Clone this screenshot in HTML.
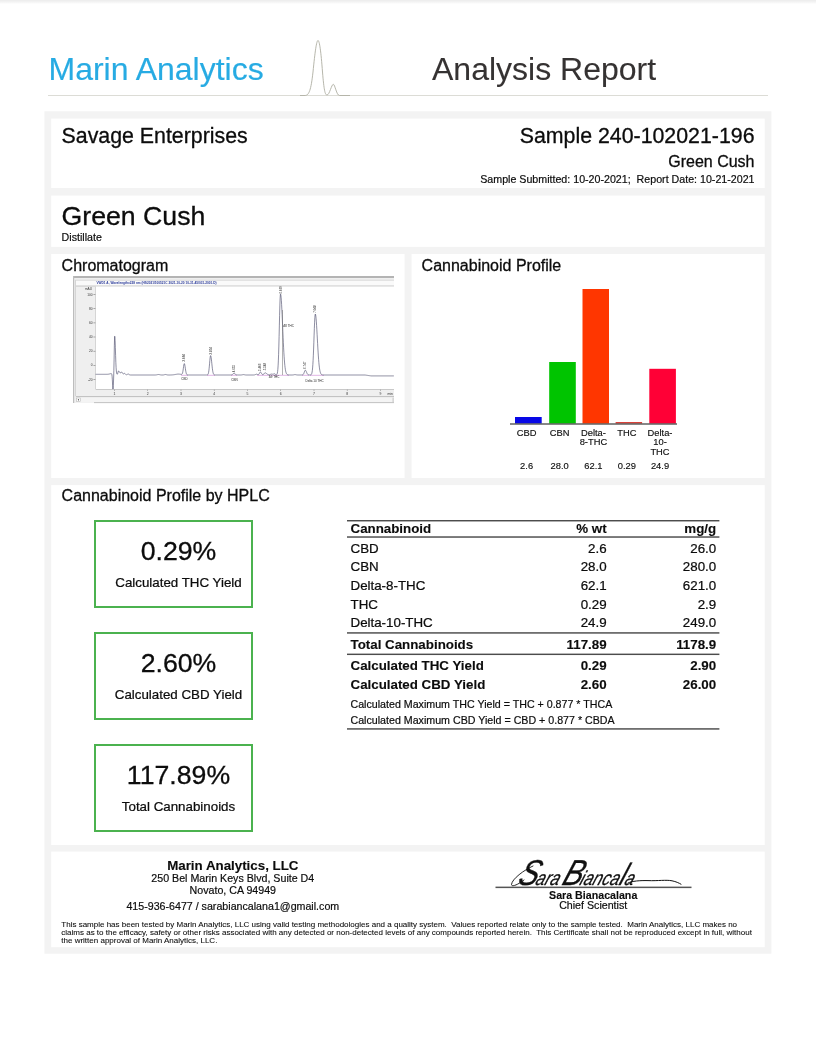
<!DOCTYPE html>
<html lang="en">
<head>
<meta charset="utf-8">
<title>Marin Analytics - Analysis Report</title>
<style>
*{box-sizing:border-box;margin:0;padding:0}
html,body{width:816px;height:1054px;background:#fff;overflow:hidden}
body{position:relative;font-family:"Liberation Sans",Arial,Helvetica,sans-serif;color:#0c0c0c;}
.t{position:absolute;white-space:pre;line-height:1;-webkit-text-stroke:0.3px currentColor}
.b{font-weight:700;-webkit-text-stroke:0.12px currentColor}
.topstrip{position:absolute;left:0;top:0;width:816px;height:4px;background:linear-gradient(#ececec,#f4f4f4 50%,#fff)}
.hline{position:absolute;left:48px;top:95px;width:720px;height:1px;background:#dcdcd6}
.gbox{position:absolute;left:94px;width:159px;height:88.5px;border:2px solid #4bb24f;background:#fff}
svg{position:absolute;overflow:visible}
svg text{font-family:"Liberation Sans",Arial,Helvetica,sans-serif}
</style>
</head>
<body>
<div class="topstrip"></div>
<header>
<div class="t " style="top:53.30px;font-size:32px;-webkit-text-stroke-width:0.30px;left:48.5px;color:#27abe3;-webkit-text-stroke-width:0.15px;">Marin Analytics</div>
<div class="t " style="top:53.30px;font-size:32px;-webkit-text-stroke-width:0.30px;left:432px;color:#353232;-webkit-text-stroke-width:0.1px;">Analysis Report</div>
<div class="hline"></div>
<svg style="left:300px;top:36px" width="50" height="64" viewBox="300 36 50 64">
<path d="M300 95.5 H305 C309 95.5 311 90 313 72 C315 52 316.5 40.5 318 40.5 C319.5 40.5 321 52 322.5 72 C324 90 325 95 327 95 C329.5 95 331.5 84.3 333.3 84.3 C335 84.3 336.5 95.5 339.5 95.5 H350" fill="none" stroke="#b2b2a6" stroke-width="0.95"/>
</svg>
</header>
<main>
<svg style="left:0;top:0;z-index:0" width="816" height="1054" viewBox="0 0 816 1054" aria-hidden="true">
<rect x="44.4" y="111.3" width="727" height="842.4" fill="#f3f3f3"/>
<g fill="#fff">
<rect x="51.2" y="118.6" width="713.5" height="69.4"/>
<rect x="51.2" y="195.6" width="713.5" height="51.3"/>
<rect x="51.2" y="254" width="353.4" height="224"/>
<rect x="411.6" y="254" width="353.1" height="224"/>
<rect x="51.2" y="485.1" width="713.5" height="359.9"/>
<rect x="51.2" y="851.6" width="713.5" height="95.6"/>
</g>
</svg>
<div class="t " style="top:125.64px;font-size:21.33px;-webkit-text-stroke-width:0.30px;left:61.6px;">Savage Enterprises</div>
<div class="t " style="top:125.64px;font-size:21.33px;-webkit-text-stroke-width:0.30px;right:61.50px;text-align:right;">Sample 240-102021-196</div>
<div class="t " style="top:153.80px;font-size:16px;-webkit-text-stroke-width:0.29px;right:61.50px;text-align:right;">Green Cush</div>
<div class="t " style="top:173.97px;font-size:10.67px;-webkit-text-stroke-width:0.19px;right:61.50px;text-align:right;">Sample Submitted: 10-20-2021;  Report Date: 10-21-2021</div>
<div class="t " style="top:202.97px;font-size:26.67px;-webkit-text-stroke-width:0.30px;left:61.6px;">Green Cush</div>
<div class="t " style="top:231.97px;font-size:10.67px;-webkit-text-stroke-width:0.19px;left:61.6px;">Distillate</div>
<div class="t " style="top:257.80px;font-size:16px;-webkit-text-stroke-width:0.29px;left:61.6px;">Chromatogram</div>
<div class="t " style="top:257.80px;font-size:16px;-webkit-text-stroke-width:0.29px;left:421.6px;">Cannabinoid Profile</div>
<svg style="left:0;top:0" width="816" height="1054" viewBox="0 0 816 1054" role="img" aria-label="Chromatogram">
<rect x="73" y="276" width="321" height="127" fill="#efefef"/>
<rect x="73" y="276" width="321" height="2" fill="#b4b4b4"/>
<rect x="73" y="276" width="1.2" height="127" fill="#bdbdbd"/>
<rect x="75.2" y="279.8" width="0.8" height="116.5" fill="#cfcfcf"/>
<rect x="76" y="280.4" width="318" height="5.2" fill="#fafafa"/>
<rect x="76" y="279.8" width="318" height="0.7" fill="#cfcfcf"/>
<rect x="76" y="285.6" width="318" height="0.9" fill="#c4c4c4"/>
<text x="96.5" y="284.2" font-size="3.4" font-weight="700" fill="#2a3a9a" textLength="120" lengthAdjust="spacingAndGlyphs">VWD1 A, Wavelength=228 nm (HS2021\100521C 2021-10-20 10-31-45\031-2001.D)</text>
<rect x="95.6" y="286.6" width="298.4" height="102.39999999999998" fill="#fff"/>
<rect x="95.19999999999999" y="286.6" width="0.7" height="102.39999999999998" fill="#c8c8c8"/>
<rect x="95.6" y="389" width="298.4" height="0.8" fill="#c0c0c0"/>
<rect x="76" y="396.2" width="318" height="0.9" fill="#b8b8b8"/>
<rect x="76" y="397.6" width="318" height="5" fill="#f4f4f4"/>
<rect x="94" y="402.2" width="300" height="0.9" fill="#bcbcbc"/>
<rect x="392.6" y="397.6" width="1" height="5" fill="#c4c4c4"/>
<rect x="76.6" y="398" width="3.6" height="3.6" fill="#fff" stroke="#aaa" stroke-width="0.5"/>
<path d="M79 398.9 L77.7 399.8 L79 400.7Z" fill="#333"/>
<g font-size="3.2" fill="#333" text-anchor="end">
<text x="92" y="290" >mAU</text>
<text x="92.6" y="295.7">100</text>
<text x="92.6" y="309.8">80</text>
<text x="92.6" y="324.0">60</text>
<text x="92.6" y="338.1">40</text>
<text x="92.6" y="352.3">20</text>
<text x="92.6" y="366.4">0</text>
<text x="92.6" y="380.6">-20</text>
</g>
<rect x="93.4" y="294.2" width="2" height="0.6" fill="#777"/>
<rect x="93.4" y="308.4" width="2" height="0.6" fill="#777"/>
<rect x="93.4" y="322.6" width="2" height="0.6" fill="#777"/>
<rect x="93.4" y="336.7" width="2" height="0.6" fill="#777"/>
<rect x="93.4" y="350.9" width="2" height="0.6" fill="#777"/>
<rect x="93.4" y="365.0" width="2" height="0.6" fill="#777"/>
<rect x="93.4" y="379.1" width="2" height="0.6" fill="#777"/>
<g font-size="3.4" fill="#333" text-anchor="middle">
<text x="114.5" y="394.6">1</text>
<text x="147.8" y="394.6">2</text>
<text x="181.0" y="394.6">3</text>
<text x="214.2" y="394.6">4</text>
<text x="247.5" y="394.6">5</text>
<text x="280.8" y="394.6">6</text>
<text x="314.0" y="394.6">7</text>
<text x="347.2" y="394.6">8</text>
<text x="380.5" y="394.6">9</text>
<text x="393" y="394.6" text-anchor="end">min</text>
</g>
<rect x="114.2" y="389.6" width="0.6" height="1.3" fill="#888"/>
<rect x="147.4" y="389.6" width="0.6" height="1.3" fill="#888"/>
<rect x="180.7" y="389.6" width="0.6" height="1.3" fill="#888"/>
<rect x="213.9" y="389.6" width="0.6" height="1.3" fill="#888"/>
<rect x="247.2" y="389.6" width="0.6" height="1.3" fill="#888"/>
<rect x="280.4" y="389.6" width="0.6" height="1.3" fill="#888"/>
<rect x="313.7" y="389.6" width="0.6" height="1.3" fill="#888"/>
<rect x="346.9" y="389.6" width="0.6" height="1.3" fill="#888"/>
<rect x="380.2" y="389.6" width="0.6" height="1.3" fill="#888"/>
<rect x="181" y="374.9" width="7" height="0.55" fill="#c77ad0"/>
<rect x="207" y="374.9" width="8" height="0.55" fill="#c77ad0"/>
<rect x="231" y="374.9" width="6" height="0.55" fill="#c77ad0"/>
<rect x="257" y="374.9" width="12" height="0.55" fill="#c77ad0"/>
<rect x="270" y="374.9" width="19" height="0.55" fill="#c77ad0"/>
<rect x="302" y="374.9" width="7" height="0.55" fill="#c77ad0"/>
<rect x="310" y="374.9" width="14" height="0.55" fill="#c77ad0"/>
<polyline points="95.60,374.30 95.85,374.30 96.10,374.30 96.35,374.30 96.60,374.30 96.85,374.30 97.10,374.30 97.35,374.30 97.60,374.30 97.85,374.30 98.10,374.30 98.35,374.30 98.60,374.30 98.85,374.30 99.10,374.30 99.35,374.30 99.60,374.30 99.85,374.30 100.10,374.30 100.35,374.30 100.60,374.30 100.85,374.30 101.10,374.30 101.35,374.30 101.60,374.30 101.85,374.30 102.10,374.30 102.35,374.30 102.60,374.30 102.85,374.30 103.10,374.30 103.35,374.30 103.60,374.30 103.85,374.30 104.10,374.30 104.35,374.30 104.60,374.30 104.85,374.30 105.10,374.30 105.35,374.30 105.60,374.30 105.85,374.30 106.10,374.30 106.35,374.30 106.60,374.29 106.85,374.29 107.10,374.29 107.35,374.28 107.60,374.27 107.85,374.25 108.10,374.23 108.35,374.20 108.60,374.16 108.85,374.12 109.10,374.06 109.35,374.00 109.60,373.93 109.85,373.86 110.10,373.79 110.35,373.73 110.60,373.67 110.85,373.63 111.10,373.61 111.35,373.62 111.60,373.84 111.85,374.53 112.10,376.27 112.35,379.87 112.60,385.08 112.85,389.00 113.10,389.00 113.35,385.74 113.60,378.97 113.85,370.51 114.10,359.15 114.35,345.75 114.60,336.38 114.85,336.19 115.10,340.59 115.35,347.64 115.60,355.46 115.85,362.41 116.10,367.63 116.35,371.00 116.60,372.90 116.85,373.83 117.10,374.19 117.35,374.18 117.60,373.78 117.85,372.98 118.10,371.92 118.35,371.11 118.60,370.97 118.85,371.12 119.10,371.39 119.35,371.77 119.60,372.19 119.85,372.58 120.10,372.87 120.35,373.00 120.60,372.92 120.85,372.65 121.10,372.30 121.35,372.01 121.60,371.94 121.85,372.11 122.10,372.42 122.35,372.83 122.60,373.25 122.85,373.61 123.10,373.83 123.35,373.89 123.60,373.80 123.85,373.62 124.10,373.44 124.35,373.36 124.60,373.42 124.85,373.60 125.10,373.85 125.35,374.13 125.60,374.37 125.85,374.56 126.10,374.67 126.35,374.72 126.60,374.71 126.85,374.65 127.10,374.53 127.35,374.38 127.60,374.23 127.85,374.10 128.10,374.03 128.35,374.05 128.60,374.15 128.85,374.31 129.10,374.49 129.35,374.65 129.60,374.79 129.85,374.89 130.10,374.95 130.35,374.98 130.60,374.99 130.85,375.00 131.10,375.00 131.35,375.00 131.60,375.00 131.85,375.00 132.10,375.00 132.35,375.00 132.60,375.00 132.85,375.00 133.10,375.00 133.35,375.00 133.60,375.00 133.85,375.00 134.10,375.00 134.35,375.00 134.60,375.00 134.85,375.00 135.10,375.00 135.35,375.00 135.60,375.00 135.85,375.00 136.10,375.00 136.35,375.00 136.60,375.00 136.85,375.00 137.10,375.00 137.35,375.00 137.60,375.00 137.85,375.00 138.10,375.00 138.35,375.00 138.60,375.00 138.85,375.00 139.10,375.00 139.35,375.00 139.60,375.00 139.85,375.00 140.10,375.00 140.35,375.00 140.60,375.00 140.85,375.00 141.10,375.00 141.35,375.00 141.60,375.00 141.85,375.00 142.10,375.00 142.35,375.00 142.60,375.00 142.85,375.00 143.10,375.00 143.35,375.00 143.60,375.00 143.85,375.00 144.10,375.00 144.35,375.00 144.60,375.00 144.85,375.00 145.10,375.00 145.35,375.00 145.60,375.00 145.85,375.00 146.10,375.00 146.35,375.00 146.60,375.00 146.85,375.00 147.10,375.00 147.35,375.00 147.60,375.00 147.85,375.00 148.10,375.00 148.35,375.00 148.60,375.00 148.85,375.00 149.10,375.00 149.35,375.00 149.60,375.00 149.85,375.00 150.10,375.00 150.35,375.00 150.60,375.00 150.85,375.00 151.10,375.00 151.35,375.00 151.60,375.00 151.85,375.00 152.10,375.00 152.35,375.00 152.60,375.00 152.85,375.00 153.10,375.00 153.35,375.00 153.60,375.00 153.85,375.00 154.10,375.00 154.35,375.00 154.60,375.00 154.85,375.00 155.10,374.99 155.35,374.98 155.60,374.97 155.85,374.96 156.10,374.93 156.35,374.90 156.60,374.86 156.85,374.81 157.10,374.75 157.35,374.68 157.60,374.62 157.85,374.57 158.10,374.53 158.35,374.50 158.60,374.50 158.85,374.52 159.10,374.56 159.35,374.61 159.60,374.67 159.85,374.73 160.10,374.79 160.35,374.85 160.60,374.89 160.85,374.93 161.10,374.95 161.35,374.97 161.60,374.98 161.85,374.99 162.10,374.99 162.35,374.99 162.60,374.99 162.85,374.98 163.10,374.97 163.35,374.95 163.60,374.92 163.85,374.87 164.10,374.81 164.35,374.74 164.60,374.67 164.85,374.60 165.10,374.54 165.35,374.51 165.60,374.50 165.85,374.53 166.10,374.58 166.35,374.65 166.60,374.73 166.85,374.80 167.10,374.86 167.35,374.91 167.60,374.94 167.85,374.97 168.10,374.98 168.35,374.99 168.60,374.99 168.85,374.99 169.10,374.99 169.35,374.99 169.60,374.99 169.85,374.99 170.10,374.98 170.35,374.98 170.60,374.97 170.85,374.97 171.10,374.96 171.35,374.95 171.60,374.94 171.85,374.92 172.10,374.91 172.35,374.89 172.60,374.87 172.85,374.85 173.10,374.82 173.35,374.79 173.60,374.76 173.85,374.73 174.10,374.69 174.35,374.65 174.60,374.61 174.85,374.57 175.10,374.53 175.35,374.48 175.60,374.44 175.85,374.39 176.10,374.35 176.35,374.30 176.60,374.26 176.85,374.23 177.10,374.19 177.35,374.16 177.60,374.14 177.85,374.12 178.10,374.11 178.35,374.10 178.60,374.10 178.85,374.11 179.10,374.12 179.35,374.14 179.60,374.16 179.85,374.19 180.10,374.22 180.35,374.26 180.60,374.29 180.85,374.33 181.10,374.36 181.35,374.37 181.60,374.35 181.85,374.24 182.10,373.99 182.35,373.52 182.60,372.75 182.85,371.60 183.10,370.08 183.35,368.28 183.60,366.44 183.85,364.84 184.10,363.82 184.35,363.58 184.60,364.08 184.85,365.19 185.10,366.71 185.35,368.42 185.60,370.09 185.85,371.56 186.10,372.73 186.35,373.59 186.60,374.17 186.85,374.54 187.10,374.76 187.35,374.88 187.60,374.94 187.85,374.97 188.10,374.99 188.35,374.99 188.60,375.00 188.85,375.00 189.10,375.00 189.35,375.00 189.60,375.00 189.85,375.00 190.10,375.00 190.35,375.00 190.60,375.00 190.85,375.00 191.10,375.00 191.35,375.00 191.60,375.00 191.85,375.00 192.10,375.00 192.35,375.00 192.60,375.00 192.85,375.00 193.10,375.00 193.35,375.00 193.60,375.00 193.85,375.00 194.10,375.00 194.35,375.00 194.60,375.00 194.85,375.00 195.10,375.00 195.35,375.00 195.60,375.00 195.85,375.00 196.10,375.00 196.35,375.00 196.60,375.00 196.85,375.00 197.10,375.00 197.35,375.00 197.60,375.00 197.85,375.00 198.10,375.00 198.35,375.00 198.60,375.00 198.85,375.00 199.10,375.00 199.35,375.00 199.60,375.00 199.85,375.00 200.10,375.00 200.35,375.00 200.60,375.00 200.85,375.00 201.10,375.00 201.35,375.00 201.60,375.00 201.85,375.00 202.10,375.00 202.35,375.00 202.60,375.00 202.85,375.00 203.10,375.00 203.35,375.00 203.60,375.00 203.85,375.00 204.10,375.00 204.35,375.00 204.60,375.00 204.85,375.00 205.10,375.00 205.35,375.00 205.60,375.00 205.85,375.00 206.10,375.00 206.35,375.00 206.60,374.99 206.85,374.98 207.10,374.96 207.35,374.90 207.60,374.78 207.85,374.56 208.10,374.15 208.35,373.46 208.60,372.37 208.85,370.80 209.10,368.70 209.35,366.12 209.60,363.23 209.85,360.36 210.10,357.88 210.35,356.20 210.60,355.60 210.85,356.02 211.10,357.21 211.35,359.04 211.60,361.29 211.85,363.72 212.10,366.12 212.35,368.30 212.60,370.16 212.85,371.66 213.10,372.79 213.35,373.60 213.60,374.15 213.85,374.50 214.10,374.72 214.35,374.85 214.60,374.93 214.85,374.96 215.10,374.98 215.35,374.99 215.60,375.00 215.85,375.00 216.10,375.00 216.35,375.00 216.60,375.00 216.85,375.00 217.10,375.00 217.35,375.00 217.60,375.00 217.85,375.00 218.10,375.00 218.35,375.00 218.60,375.00 218.85,375.00 219.10,375.00 219.35,375.00 219.60,375.00 219.85,375.00 220.10,375.00 220.35,375.00 220.60,375.00 220.85,375.00 221.10,375.00 221.35,375.00 221.60,375.00 221.85,375.00 222.10,375.00 222.35,375.00 222.60,375.00 222.85,375.00 223.10,375.00 223.35,375.00 223.60,375.00 223.85,375.00 224.10,375.00 224.35,375.00 224.60,375.00 224.85,375.00 225.10,375.00 225.35,375.00 225.60,375.00 225.85,375.00 226.10,375.00 226.35,375.00 226.60,375.00 226.85,375.00 227.10,375.00 227.35,375.00 227.60,375.00 227.85,375.00 228.10,375.00 228.35,375.00 228.60,375.00 228.85,375.00 229.10,375.00 229.35,375.00 229.60,375.00 229.85,375.00 230.10,375.00 230.35,375.00 230.60,374.99 230.85,374.98 231.10,374.97 231.35,374.94 231.60,374.89 231.85,374.80 232.10,374.68 232.35,374.52 232.60,374.31 232.85,374.08 233.10,373.84 233.35,373.62 233.60,373.47 233.85,373.40 234.10,373.42 234.35,373.51 234.60,373.65 234.85,373.83 235.10,374.03 235.35,374.23 235.60,374.41 235.85,374.57 236.10,374.70 236.35,374.80 236.60,374.87 236.85,374.92 237.10,374.95 237.35,374.97 237.60,374.99 237.85,374.99 238.10,375.00 238.35,375.00 238.60,375.00 238.85,375.00 239.10,375.00 239.35,375.00 239.60,375.00 239.85,375.00 240.10,375.00 240.35,375.00 240.60,374.99 240.85,374.99 241.10,374.98 241.35,374.96 241.60,374.93 241.85,374.90 242.10,374.85 242.35,374.79 242.60,374.73 242.85,374.68 243.10,374.63 243.35,374.60 243.60,374.60 243.85,374.62 244.10,374.67 244.35,374.72 244.60,374.78 244.85,374.84 245.10,374.89 245.35,374.93 245.60,374.96 245.85,374.97 246.10,374.99 246.35,374.99 246.60,375.00 246.85,375.00 247.10,375.00 247.35,375.00 247.60,375.00 247.85,375.00 248.10,375.00 248.35,375.00 248.60,375.00 248.85,375.00 249.10,375.00 249.35,375.00 249.60,375.00 249.85,375.00 250.10,375.00 250.35,375.00 250.60,375.00 250.85,375.00 251.10,375.00 251.35,375.00 251.60,375.00 251.85,375.00 252.10,375.00 252.35,375.00 252.60,375.00 252.85,375.00 253.10,375.00 253.35,374.99 253.60,374.99 253.85,374.98 254.10,374.96 254.35,374.92 254.60,374.87 254.85,374.79 255.10,374.70 255.35,374.59 255.60,374.47 255.85,374.35 256.10,374.26 256.35,374.21 256.60,374.20 256.85,374.25 257.10,374.33 257.35,374.43 257.60,374.54 257.85,374.62 258.10,374.66 258.35,374.63 258.60,374.51 258.85,374.27 259.10,373.92 259.35,373.47 259.60,372.97 259.85,372.51 260.10,372.16 260.35,372.00 260.60,372.06 260.85,372.29 261.10,372.65 261.35,373.09 261.60,373.53 261.85,373.94 262.10,374.27 262.35,374.50 262.60,374.64 262.85,374.68 263.10,374.62 263.35,374.49 263.60,374.27 263.85,373.98 264.10,373.66 264.35,373.34 264.60,373.06 264.85,372.87 265.10,372.80 265.35,372.83 265.60,372.90 265.85,373.03 266.10,373.19 266.35,373.38 266.60,373.58 266.85,373.79 267.10,373.99 267.35,374.18 267.60,374.35 267.85,374.49 268.10,374.60 268.35,374.69 268.60,374.75 268.85,374.78 269.10,374.78 269.35,374.75 269.60,374.70 269.85,374.62 270.10,374.53 270.35,374.42 270.60,374.31 270.85,374.22 271.10,374.14 271.35,374.10 271.60,374.08 271.85,374.10 272.10,374.14 272.35,374.18 272.60,374.21 272.85,374.21 273.10,374.18 273.35,374.11 273.60,374.00 273.85,373.90 274.10,373.81 274.35,373.76 274.60,373.78 274.85,373.89 275.10,374.08 275.35,374.31 275.60,374.52 275.85,374.69 276.10,374.78 276.35,374.80 276.60,374.70 276.85,374.46 277.10,373.97 277.35,373.10 277.60,371.63 277.85,369.31 278.10,365.82 278.35,360.89 278.60,354.31 278.85,346.06 279.10,336.39 279.35,325.87 279.60,315.37 279.85,305.96 280.10,298.75 280.35,294.69 280.60,294.09 280.85,295.12 281.10,297.24 281.35,300.37 281.60,304.38 281.85,309.12 282.10,314.41 282.35,320.05 282.60,325.87 282.85,331.69 283.10,337.36 283.35,342.75 283.60,347.75 283.85,352.31 284.10,356.36 284.35,359.91 284.60,362.96 284.85,365.52 285.10,367.65 285.35,369.37 285.60,370.76 285.85,371.84 286.10,372.69 286.35,373.33 286.60,373.81 286.85,374.16 287.10,374.42 287.35,374.60 287.60,374.73 287.85,374.82 288.10,374.88 288.35,374.93 288.60,374.95 288.85,374.97 289.10,374.98 289.35,374.99 289.60,374.99 289.85,375.00 290.10,375.00 290.35,375.00 290.60,375.00 290.85,375.00 291.10,375.00 291.35,375.00 291.60,375.00 291.85,375.00 292.10,374.99 292.35,374.99 292.60,374.98 292.85,374.96 293.10,374.93 293.35,374.90 293.60,374.85 293.85,374.79 294.10,374.73 294.35,374.68 294.60,374.63 294.85,374.60 295.10,374.60 295.35,374.62 295.60,374.67 295.85,374.72 296.10,374.78 296.35,374.84 296.60,374.89 296.85,374.93 297.10,374.96 297.35,374.97 297.60,374.99 297.85,374.99 298.10,375.00 298.35,375.00 298.60,375.00 298.85,375.00 299.10,375.00 299.35,375.00 299.60,375.00 299.85,375.00 300.10,375.00 300.35,375.00 300.60,375.00 300.85,375.00 301.10,375.00 301.35,375.00 301.60,374.99 301.85,374.99 302.10,374.97 302.35,374.94 302.60,374.87 302.85,374.76 303.10,374.57 303.35,374.28 303.60,373.87 303.85,373.32 304.10,372.66 304.35,371.94 304.60,371.24 304.85,370.66 305.10,370.30 305.35,370.20 305.60,370.35 305.85,370.68 306.10,371.16 306.35,371.73 306.60,372.33 306.85,372.92 307.10,373.44 307.35,373.88 307.60,374.24 307.85,374.50 308.10,374.68 308.35,374.81 308.60,374.89 308.85,374.94 309.10,374.97 309.35,374.98 309.60,374.99 309.85,374.99 310.10,374.98 310.35,374.96 310.60,374.91 310.85,374.83 311.10,374.67 311.35,374.40 311.60,373.94 311.85,373.20 312.10,372.05 312.35,370.35 312.60,367.94 312.85,364.67 313.10,360.43 313.35,355.20 313.60,349.06 313.85,342.25 314.10,335.16 314.35,328.29 314.60,322.23 314.85,317.55 315.10,314.72 315.35,314.02 315.60,314.68 315.85,316.26 316.10,318.69 316.35,321.85 316.60,325.62 316.85,329.82 317.10,334.31 317.35,338.93 317.60,343.51 317.85,347.94 318.10,352.11 318.35,355.93 318.60,359.36 318.85,362.38 319.10,364.97 319.35,367.15 319.60,368.95 319.85,370.41 320.10,371.58 320.35,372.48 320.60,373.18 320.85,373.70 321.10,374.09 321.35,374.37 321.60,374.57 321.85,374.71 322.10,374.81 322.35,374.88 322.60,374.92 322.85,374.95 323.10,374.97 323.35,374.98 323.60,374.99 323.85,374.99 324.10,375.00 324.35,375.00 324.60,375.00 324.85,375.00 325.10,375.00 325.35,375.00 325.60,375.00 325.85,375.00 326.10,375.00 326.35,375.00 326.60,375.00 326.85,375.00 327.10,375.00 327.35,375.00 327.60,375.00 327.85,375.00 328.10,375.00 328.35,375.00 328.60,375.00 328.85,375.00 329.10,375.00 329.35,375.00 329.60,375.00 329.85,375.00 330.10,375.00 330.35,375.00 330.60,375.00 330.85,375.00 331.10,375.00 331.35,375.00 331.60,375.00 331.85,375.00 332.10,375.00 332.35,375.00 332.60,375.00 332.85,375.00 333.10,375.00 333.35,375.00 333.60,375.00 333.85,375.00 334.10,375.00 334.35,375.00 334.60,375.00 334.85,375.00 335.10,375.00 335.35,375.00 335.60,375.00 335.85,375.00 336.10,375.00 336.35,375.00 336.60,375.00 336.85,375.00 337.10,375.00 337.35,375.00 337.60,375.00 337.85,375.00 338.10,375.00 338.35,375.00 338.60,375.00 338.85,375.00 339.10,375.00 339.35,375.00 339.60,375.00 339.85,375.00 340.10,375.00 340.35,375.00 340.60,375.00 340.85,375.00 341.10,375.00 341.35,375.00 341.60,375.00 341.85,375.00 342.10,375.00 342.35,375.00 342.60,375.00 342.85,375.00 343.10,375.00 343.35,375.00 343.60,375.00 343.85,375.00 344.10,375.00 344.35,375.00 344.60,375.00 344.85,375.00 345.10,375.00 345.35,375.00 345.60,375.00 345.85,375.00 346.10,375.00 346.35,375.00 346.60,375.00 346.85,375.00 347.10,375.00 347.35,375.00 347.60,375.00 347.85,375.00 348.10,375.00 348.35,375.00 348.60,375.00 348.85,375.00 349.10,375.00 349.35,375.00 349.60,375.00 349.85,375.00 350.10,375.00 350.35,375.00 350.60,375.00 350.85,375.00 351.10,375.00 351.35,375.00 351.60,375.00 351.85,375.00 352.10,375.00 352.35,375.00 352.60,375.00 352.85,375.00 353.10,375.00 353.35,375.00 353.60,375.00 353.85,375.00 354.10,375.00 354.35,375.00 354.60,375.00 354.85,375.00 355.10,375.00 355.35,375.00 355.60,375.00 355.85,375.00 356.10,375.00 356.35,375.00 356.60,375.00 356.85,375.00 357.10,375.00 357.35,375.00 357.60,375.00 357.85,375.00 358.10,375.00 358.35,375.00 358.60,375.00 358.85,375.00 359.10,375.00 359.35,375.00 359.60,375.00 359.85,375.00 360.10,375.00 360.35,375.00 360.60,375.00 360.85,375.00 361.10,375.00 361.35,375.00 361.60,375.00 361.85,375.00 362.10,375.00 362.35,375.00 362.60,375.00 362.85,375.00 363.10,375.00 363.35,375.00 363.60,375.00 363.85,375.00 364.10,375.00 364.35,375.00 364.60,375.00 364.85,375.00 365.10,375.01 365.35,375.05 365.60,375.09 365.85,375.13 366.10,375.17 366.35,375.20 366.60,375.24 366.85,375.28 367.10,375.31 367.35,375.35 367.60,375.39 367.85,375.43 368.10,375.47 368.35,375.50 368.60,375.54 368.85,375.58 369.10,375.62 369.35,375.65 369.60,375.69 369.85,375.73 370.10,375.76 370.35,375.80 370.60,375.84 370.85,375.88 371.10,375.90 371.35,375.90 371.60,375.90 371.85,375.90 372.10,375.90 372.35,375.90 372.60,375.90 372.85,375.90 373.10,375.90 373.35,375.90 373.60,375.90 373.85,375.90 374.10,375.90 374.35,375.90 374.60,375.90 374.85,375.90 375.10,375.90 375.35,375.90 375.60,375.90 375.85,375.90 376.10,375.90 376.35,375.90 376.60,375.90 376.85,375.90 377.10,375.90 377.35,375.90 377.60,375.90 377.85,375.90 378.10,375.90 378.35,375.90 378.60,375.90 378.85,375.90 379.10,375.90 379.35,375.90 379.60,375.90 379.85,375.90 380.10,375.90 380.35,375.90 380.60,375.90 380.85,375.90 381.10,375.90 381.35,375.90 381.60,375.90 381.85,375.90 382.10,375.90 382.35,375.90 382.60,375.90 382.85,375.90 383.10,375.90 383.35,375.90 383.60,375.90 383.85,375.90 384.10,375.90 384.35,375.90 384.60,375.90 384.85,375.90 385.10,375.90 385.35,375.90 385.60,375.90 385.85,375.90 386.10,375.90 386.35,375.90 386.60,375.90 386.85,375.90 387.10,375.90 387.35,375.90 387.60,375.90 387.85,375.90 388.10,375.90 388.35,375.90 388.60,375.90 388.85,375.90 389.10,375.90 389.35,375.90 389.60,375.90 389.85,375.90 390.10,375.90 390.35,375.90 390.60,375.90 390.85,375.90 391.10,375.90 391.35,375.90 391.60,375.90 391.85,375.90 392.10,375.90 392.35,375.90 392.60,375.90 392.85,375.90 393.10,375.90 393.35,375.90 393.60,375.90 393.85,375.90" fill="none" stroke="#3f3f62" stroke-width="0.6" stroke-linejoin="round"/>
<rect x="282.1" y="310" width="0.5" height="65" fill="#666"/>
<text transform="translate(185.3 361.5) rotate(-90)" font-size="3" fill="#222">3.084</text>
<text transform="translate(211.6 354.5) rotate(-90)" font-size="3" fill="#222">3.854</text>
<text transform="translate(234.9 372.3) rotate(-90)" font-size="3" fill="#222">4.655</text>
<text transform="translate(261.4 371.0) rotate(-90)" font-size="3" fill="#222">5.403</text>
<text transform="translate(266.2 370.3) rotate(-90)" font-size="3" fill="#222">5.548</text>
<text transform="translate(281.5 293.5) rotate(-90)" font-size="3" fill="#222">6.039</text>
<text transform="translate(306.3 369.0) rotate(-90)" font-size="3" fill="#222">6.747</text>
<text transform="translate(316.3 312.8) rotate(-90)" font-size="3" fill="#222">7.048</text>
<g font-size="3" fill="#222">
<text x="184.5" y="379.9" text-anchor="middle">CBD</text>
<text x="234.5" y="380.9" text-anchor="middle">CBN</text>
<text x="274" y="377.9" text-anchor="middle">Δ9 THC</text>
<text x="283.2" y="326.6">Δ8 THC</text>
<text x="314.6" y="381.8" text-anchor="middle">Delta 10 THC</text>
</g>
</svg>

<svg style="left:0;top:0" width="816" height="1054" viewBox="0 0 816 1054" role="img" aria-label="Cannabinoid Profile bar chart">
<rect x="515" y="417" width="26.7" height="7" fill="#0808e6"/>
<rect x="549.2" y="362" width="26.6" height="62" fill="#00c400"/>
<rect x="582.5" y="289" width="26.5" height="135" fill="#ff3600"/>
<rect x="615.6" y="422" width="26.5" height="2" fill="#d9423a"/>
<rect x="649.3" y="368.8" width="26.6" height="55.2" fill="#ff0036"/>
<rect x="510" y="423.2" width="167" height="1.6" fill="#6a6a6a"/>
<g font-size="9.33" fill="#111" stroke="#111" stroke-width="0.15" text-anchor="middle">
<text x="526.6" y="435.8">CBD</text>
<text x="559.7" y="435.8">CBN</text>
<text x="593.4" y="435.8">Delta-</text>
<text x="593.4" y="445.1">8-THC</text>
<text x="626.9" y="435.8">THC</text>
<text x="660" y="435.8">Delta-</text>
<text x="660" y="445.1">10-</text>
<text x="660" y="454.5">THC</text>
<text x="526.6" y="468.9">2.6</text>
<text x="559.7" y="468.9">28.0</text>
<text x="593.4" y="468.9">62.1</text>
<text x="626.9" y="468.9">0.29</text>
<text x="660" y="468.9">24.9</text>
</g>
</svg>

<div class="t " style="top:487.80px;font-size:16px;-webkit-text-stroke-width:0.29px;left:61.6px;">Cannabinoid Profile by HPLC</div>
<div class="gbox" style="top:519.5px"></div>
<div class="t " style="top:537.96px;font-size:26.67px;-webkit-text-stroke-width:0.30px;left:99.00px;width:159px;text-align:center;">0.29%</div>
<div class="t " style="top:576.13px;font-size:13.33px;-webkit-text-stroke-width:0.24px;left:99.00px;width:159px;text-align:center;">Calculated THC Yield</div>
<div class="gbox" style="top:631.5px"></div>
<div class="t " style="top:649.96px;font-size:26.67px;-webkit-text-stroke-width:0.30px;left:99.00px;width:159px;text-align:center;">2.60%</div>
<div class="t " style="top:688.13px;font-size:13.33px;-webkit-text-stroke-width:0.24px;left:99.00px;width:159px;text-align:center;">Calculated CBD Yield</div>
<div class="gbox" style="top:743.5px"></div>
<div class="t " style="top:761.96px;font-size:26.67px;-webkit-text-stroke-width:0.30px;left:99.00px;width:159px;text-align:center;">117.89%</div>
<div class="t " style="top:800.13px;font-size:13.33px;-webkit-text-stroke-width:0.24px;left:99.00px;width:159px;text-align:center;">Total Cannabinoids</div>
<svg style="left:0;top:0" width="816" height="1054" viewBox="0 0 816 1054" aria-hidden="true"><g fill="#4c4c4c"><rect x="347" y="520.0" width="372.4" height="1.45"/><rect x="347" y="536.3" width="372.4" height="1.45"/><rect x="347" y="632.2" width="372.4" height="1.45"/><rect x="347" y="653.6" width="372.4" height="1.45"/><rect x="347" y="728.2" width="372.4" height="1.45"/><rect x="495.5" y="886.6" width="196" height="1.5" fill="#555"/></g></svg>
<div class="t b" style="top:522.13px;font-size:13.33px;left:350.5px;">Cannabinoid</div>
<div class="t b" style="top:522.13px;font-size:13.33px;right:209.40px;text-align:right;">% wt</div>
<div class="t b" style="top:522.13px;font-size:13.33px;right:99.80px;text-align:right;">mg/g</div>
<div class="t " style="top:542.13px;font-size:13.33px;-webkit-text-stroke-width:0.24px;left:350.5px;">CBD</div>
<div class="t " style="top:542.13px;font-size:13.33px;-webkit-text-stroke-width:0.24px;right:209.40px;text-align:right;">2.6</div>
<div class="t " style="top:542.13px;font-size:13.33px;-webkit-text-stroke-width:0.24px;right:99.80px;text-align:right;">26.0</div>
<div class="t " style="top:560.13px;font-size:13.33px;-webkit-text-stroke-width:0.24px;left:350.5px;">CBN</div>
<div class="t " style="top:560.13px;font-size:13.33px;-webkit-text-stroke-width:0.24px;right:209.40px;text-align:right;">28.0</div>
<div class="t " style="top:560.13px;font-size:13.33px;-webkit-text-stroke-width:0.24px;right:99.80px;text-align:right;">280.0</div>
<div class="t " style="top:579.13px;font-size:13.33px;-webkit-text-stroke-width:0.24px;left:350.5px;">Delta-8-THC</div>
<div class="t " style="top:579.13px;font-size:13.33px;-webkit-text-stroke-width:0.24px;right:209.40px;text-align:right;">62.1</div>
<div class="t " style="top:579.13px;font-size:13.33px;-webkit-text-stroke-width:0.24px;right:99.80px;text-align:right;">621.0</div>
<div class="t " style="top:598.13px;font-size:13.33px;-webkit-text-stroke-width:0.24px;left:350.5px;">THC</div>
<div class="t " style="top:598.13px;font-size:13.33px;-webkit-text-stroke-width:0.24px;right:209.40px;text-align:right;">0.29</div>
<div class="t " style="top:598.13px;font-size:13.33px;-webkit-text-stroke-width:0.24px;right:99.80px;text-align:right;">2.9</div>
<div class="t " style="top:616.13px;font-size:13.33px;-webkit-text-stroke-width:0.24px;left:350.5px;">Delta-10-THC</div>
<div class="t " style="top:616.13px;font-size:13.33px;-webkit-text-stroke-width:0.24px;right:209.40px;text-align:right;">24.9</div>
<div class="t " style="top:616.13px;font-size:13.33px;-webkit-text-stroke-width:0.24px;right:99.80px;text-align:right;">249.0</div>
<div class="t b" style="top:638.13px;font-size:13.33px;left:350.5px;">Total Cannabinoids</div>
<div class="t b" style="top:638.13px;font-size:13.33px;right:209.40px;text-align:right;">117.89</div>
<div class="t b" style="top:638.13px;font-size:13.33px;right:99.80px;text-align:right;">1178.9</div>
<div class="t b" style="top:659.13px;font-size:13.33px;left:350.5px;">Calculated THC Yield</div>
<div class="t b" style="top:659.13px;font-size:13.33px;right:209.40px;text-align:right;">0.29</div>
<div class="t b" style="top:659.13px;font-size:13.33px;right:99.80px;text-align:right;">2.90</div>
<div class="t b" style="top:678.13px;font-size:13.33px;left:350.5px;">Calculated CBD Yield</div>
<div class="t b" style="top:678.13px;font-size:13.33px;right:209.40px;text-align:right;">2.60</div>
<div class="t b" style="top:678.13px;font-size:13.33px;right:99.80px;text-align:right;">26.00</div>
<div class="t " style="top:698.96px;font-size:10.67px;-webkit-text-stroke-width:0.19px;left:350.5px;">Calculated Maximum THC Yield = THC + 0.877 * THCA</div>
<div class="t " style="top:714.96px;font-size:10.67px;-webkit-text-stroke-width:0.19px;left:350.5px;">Calculated Maximum CBD Yield = CBD + 0.877 * CBDA</div>
</main>
<footer>
<div class="t b" style="top:859.13px;font-size:13.33px;left:32.80px;width:400px;text-align:center;">Marin Analytics, LLC</div>
<div class="t " style="top:872.96px;font-size:10.67px;-webkit-text-stroke-width:0.19px;left:32.80px;width:400px;text-align:center;">250 Bel Marin Keys Blvd, Suite D4</div>
<div class="t " style="top:884.96px;font-size:10.67px;-webkit-text-stroke-width:0.19px;left:32.80px;width:400px;text-align:center;">Novato, CA 94949</div>
<div class="t " style="top:900.96px;font-size:10.67px;-webkit-text-stroke-width:0.19px;left:32.80px;width:400px;text-align:center;">415-936-6477 / sarabiancalana1@gmail.com</div>
<svg style="left:0;top:0" width="816" height="1054" viewBox="0 0 816 1054" role="img" aria-label="Signature of Sara Biancalana">
<text transform="translate(516.5 884.8) skewX(-20) scale(0.82 1)" font-family="'Liberation Serif','DejaVu Serif',serif" font-style="italic" font-size="20" fill="#111" stroke="#111" stroke-width="0.3"><tspan font-size="36">S</tspan><tspan dx="-2">ara</tspan><tspan font-size="36" dx="3">B</tspan><tspan dx="-2">ianca</tspan><tspan font-size="31">l</tspan><tspan>a</tspan></text>
<path d="M533 866 C524 870 512 879 511.5 884.5 C511.5 887 517 885.5 524 880" fill="none" stroke="#111" stroke-width="0.9" stroke-linecap="round"/>
<path d="M628 883 C632 881 640 880.4 648 880.6 C658 881 666 879.6 672 880.8 C676 881.6 679 883 681 884.2" fill="none" stroke="#111" stroke-width="1" stroke-linecap="round"/>
</svg>

<div class="t b" style="top:889.96px;font-size:10.67px;left:393.20px;width:400px;text-align:center;">Sara Bianacalana</div>
<div class="t " style="top:899.96px;font-size:10.67px;-webkit-text-stroke-width:0.19px;left:393.20px;width:400px;text-align:center;">Chief Scientist</div>
<div class="t " style="top:920.80px;font-size:8px;-webkit-text-stroke-width:0.08px;left:61.3px;">This sample has been tested by Marin Analytics, LLC using valid testing methodologies and a quality system.  Values reported relate only to the sample tested.  Marin Analytics, LLC makes no</div>
<div class="t " style="top:928.80px;font-size:8px;-webkit-text-stroke-width:0.08px;left:61.3px;">claims as to the efficacy, safety or other risks associated with any detected or non-detected levels of any compounds reported herein.  This Certificate shall not be reproduced except in full, without</div>
<div class="t " style="top:936.80px;font-size:8px;-webkit-text-stroke-width:0.08px;left:61.3px;">the written approval of Marin Analytics, LLC.</div>
</footer>
</body>
</html>
